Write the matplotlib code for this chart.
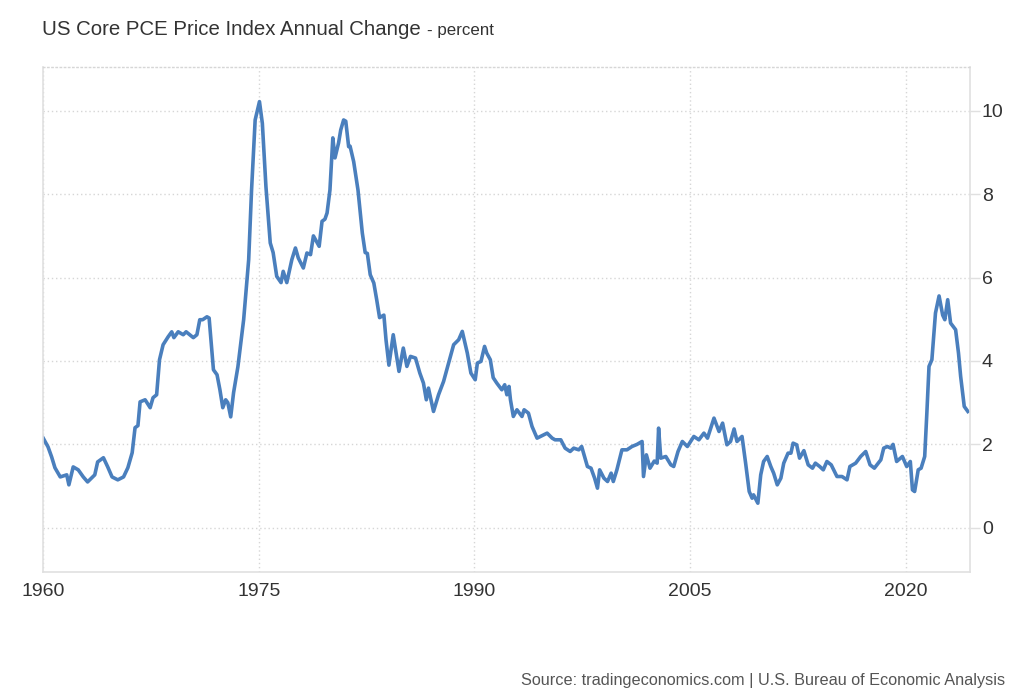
import matplotlib
matplotlib.use("Agg")
import matplotlib.pyplot as plt

plt.rcParams['font.family'] = ['Liberation Sans', 'DejaVu Sans']

# US Core PCE annual change (%), fractional years
years = [
    1960.0, 1960.35, 1960.6, 1960.83, 1961.2, 1961.65, 1961.8, 1962.1, 1962.45, 1962.8,
    1963.1, 1963.6, 1963.8, 1964.2, 1964.5, 1964.8, 1965.2, 1965.6, 1965.9, 1966.2,
    1966.4, 1966.6, 1966.75, 1967.1, 1967.45, 1967.65, 1967.9, 1968.1, 1968.35, 1968.7,
    1968.95, 1969.1, 1969.4, 1969.75, 1969.95, 1970.45, 1970.7, 1970.9, 1971.1, 1971.4,
    1971.55, 1971.85, 1972.1, 1972.3, 1972.5, 1972.7, 1972.85, 1973.05, 1973.25, 1973.55,
    1973.95, 1974.3, 1974.5, 1974.75, 1975.05, 1975.25, 1975.5, 1975.8, 1976.0, 1976.25,
    1976.55, 1976.7, 1976.95, 1977.3, 1977.55, 1977.75, 1978.1, 1978.35, 1978.6, 1978.8,
    1979.2, 1979.4, 1979.6, 1979.75, 1979.95, 1980.15, 1980.3, 1980.55, 1980.7, 1980.9,
    1981.05, 1981.25, 1981.35, 1981.6, 1981.9, 1982.2, 1982.4, 1982.55, 1982.75, 1983.0,
    1983.2, 1983.4, 1983.7, 1983.85, 1984.05, 1984.35, 1984.75, 1985.05, 1985.3, 1985.55,
    1985.9, 1986.2, 1986.45, 1986.65, 1986.8, 1987.15, 1987.5, 1987.85, 1988.2, 1988.55,
    1988.9, 1989.15, 1989.5, 1989.75, 1990.05, 1990.2, 1990.45, 1990.7, 1990.85, 1991.1,
    1991.3, 1991.55, 1991.9, 1992.1, 1992.25, 1992.4, 1992.5, 1992.7, 1992.95, 1993.3,
    1993.45, 1993.75, 1994.0, 1994.2, 1994.35, 1994.7, 1995.05, 1995.4, 1995.6, 1996.0,
    1996.3, 1996.65, 1996.9, 1997.25, 1997.45, 1997.85, 1998.1, 1998.35, 1998.55, 1998.7,
    1999.0, 1999.25, 1999.5, 1999.65, 1999.9, 2000.25, 2000.6, 2000.95, 2001.3, 2001.65,
    2001.75, 2001.95, 2002.2, 2002.5, 2002.7, 2002.8, 2002.95, 2003.3, 2003.65, 2003.85,
    2004.15, 2004.45, 2004.8, 2005.25, 2005.6, 2005.95, 2006.2, 2006.65, 2007.0, 2007.25,
    2007.55, 2007.8, 2008.05, 2008.25, 2008.6, 2008.85, 2009.1, 2009.3, 2009.4, 2009.7,
    2009.9, 2010.1, 2010.35, 2010.6, 2010.8, 2011.05, 2011.3, 2011.5, 2011.8, 2012.0,
    2012.15, 2012.4, 2012.6, 2012.9, 2013.2, 2013.5, 2013.7, 2014.0, 2014.25, 2014.5,
    2014.8, 2015.2, 2015.55, 2015.9, 2016.1, 2016.5, 2016.85, 2017.2, 2017.5, 2017.8,
    2018.25, 2018.45, 2018.7, 2018.95, 2019.1, 2019.35, 2019.75, 2020.05, 2020.3, 2020.45,
    2020.6, 2020.85, 2021.05, 2021.3, 2021.45, 2021.6, 2021.8, 2022.05, 2022.3, 2022.55,
    2022.7, 2022.9, 2023.1, 2023.45, 2023.65, 2023.8, 2024.05, 2024.3,
]
values = [
    2.16, 1.94, 1.70, 1.44, 1.22, 1.27, 1.03, 1.46, 1.39, 1.22,
    1.10, 1.27, 1.58, 1.68, 1.46, 1.22, 1.15, 1.22, 1.44, 1.80,
    2.40, 2.45, 3.02, 3.07, 2.88, 3.12, 3.19, 4.03, 4.39, 4.58,
    4.70, 4.56, 4.70, 4.63, 4.70, 4.56, 4.63, 4.99, 4.99, 5.06,
    5.03, 3.79, 3.67, 3.31, 2.88, 3.07, 3.00, 2.66, 3.24, 3.86,
    4.99, 6.43, 8.10, 9.78, 10.22, 9.70, 8.18, 6.83, 6.60, 6.03,
    5.88, 6.15, 5.88, 6.43, 6.71, 6.47, 6.23, 6.59, 6.55, 7.00,
    6.75, 7.35, 7.40, 7.55, 8.10, 9.35, 8.87, 9.23, 9.54, 9.78,
    9.75, 9.14, 9.15, 8.78, 8.10, 7.07, 6.60, 6.58, 6.07, 5.87,
    5.47, 5.04, 5.10, 4.50, 3.90, 4.63, 3.75, 4.31, 3.87, 4.11,
    4.07, 3.71, 3.47, 3.07, 3.35, 2.79, 3.19, 3.51, 3.95, 4.39,
    4.51, 4.71, 4.19, 3.71, 3.55, 3.95, 3.99, 4.35, 4.19, 4.03,
    3.60, 3.47, 3.31, 3.43, 3.19, 3.39, 3.07, 2.67, 2.83, 2.67,
    2.83, 2.75, 2.43, 2.27, 2.15, 2.21, 2.27, 2.15, 2.11, 2.11,
    1.91, 1.83, 1.91, 1.87, 1.95, 1.47, 1.43, 1.19, 0.95, 1.39,
    1.19, 1.11, 1.31, 1.11, 1.39, 1.87, 1.87, 1.95, 2.00, 2.07,
    1.23, 1.75, 1.43, 1.60, 1.55, 2.39, 1.67, 1.71, 1.51, 1.47,
    1.83, 2.07, 1.95, 2.19, 2.11, 2.27, 2.15, 2.63, 2.31, 2.51,
    1.99, 2.07, 2.37, 2.07, 2.19, 1.55, 0.87, 0.71, 0.79, 0.59,
    1.27, 1.59, 1.71, 1.47, 1.31, 1.03, 1.19, 1.55, 1.79, 1.79,
    2.03, 1.99, 1.67, 1.85, 1.51, 1.43, 1.55, 1.47, 1.39, 1.59,
    1.51, 1.23, 1.23, 1.15, 1.47, 1.55, 1.71, 1.83, 1.51, 1.43,
    1.63, 1.91, 1.95, 1.91, 2.00, 1.59, 1.71, 1.47, 1.59, 0.91,
    0.87, 1.39, 1.43, 1.71, 2.75, 3.87, 4.03, 5.15, 5.56, 5.10,
    4.99, 5.47, 4.91, 4.75, 4.19, 3.63, 2.91, 2.79,
]

x_ticks = [1960, 1975, 1990, 2005, 2020]
y_ticks = [0, 2, 4, 6, 8, 10]

fig = plt.figure(figsize=(10.24, 7), dpi=100)
ax = fig.add_axes([43 / 1024, 1 - 572 / 700, 927 / 1024, 505 / 700])

ax.plot(years, values, color='#4a7fbd', linewidth=2.6, solid_joinstyle='round')

ax.set_xlim(1960, 2024.45)
ax.set_ylim(-1.06, 11.05)
ax.set_xticks(x_ticks)
ax.set_yticks(y_ticks)
ax.set_xticklabels([str(t) for t in x_ticks])
ax.yaxis.tick_right()

ax.grid(True, color='#d6d6d6', linestyle=(0, (1, 2)), linewidth=1)
ax.tick_params(axis='x', length=0, pad=8, labelsize=14, labelcolor='#333333')
ax.tick_params(axis='y', length=7, width=1, color='#e0e0e0', pad=1.5,
               labelsize=14, labelcolor='#333333')

for side in ['left', 'right', 'bottom']:
    ax.spines[side].set_color('#e0e0e0')
    ax.spines[side].set_linewidth(1.2)
ax.spines['top'].set_color('#d6d6d6')
ax.spines['top'].set_linestyle((0, (1, 2)))
ax.spines['top'].set_linewidth(1)

# title in two parts
t1 = fig.text(42 / 1024, 1 - 35 / 700, "US Core PCE Price Index Annual Change",
              fontsize=14.7, color='#333333', va='baseline', ha='left')
renderer = fig.canvas.get_renderer()
bb = t1.get_window_extent(renderer=renderer)
fig.text((bb.x1 + 6) / 1024, 1 - 35 / 700, "- percent",
         fontsize=12.2, color='#333333', va='baseline', ha='left')

fig.text(1005 / 1024, 1 - 685 / 700,
         "Source: tradingeconomics.com | U.S. Bureau of Economic Analysis",
         fontsize=11.7, color='#555555', va='baseline', ha='right')

fig.savefig("out.png", dpi=100)
